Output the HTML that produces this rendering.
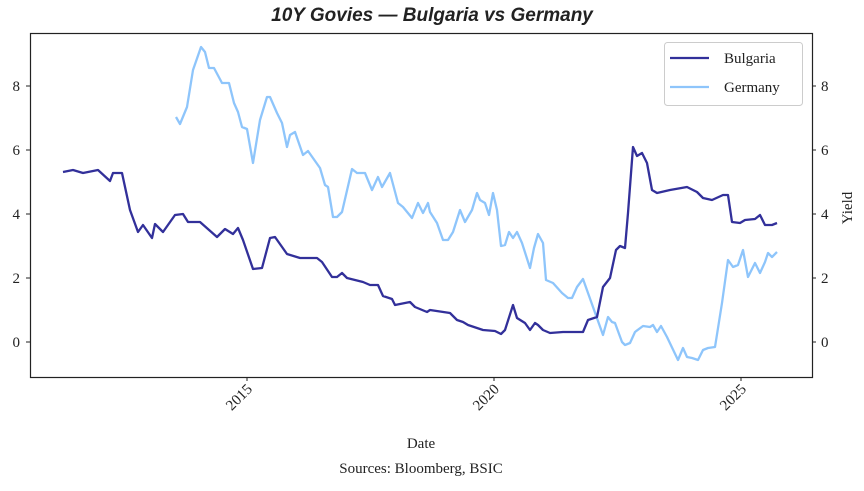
<!DOCTYPE html>
<html><head><meta charset="utf-8"><style>
body{margin:0;background:#fff;}
svg text{font-family:"Liberation Serif",serif;fill:#222;}
</style></head><body>
<svg width="864" height="486" viewBox="0 0 864 486" xmlns="http://www.w3.org/2000/svg">
<text x="432" y="21" text-anchor="middle" font-size="19" font-weight="bold" font-style="italic" style="font-family:'Liberation Sans',sans-serif">10Y Govies — Bulgaria vs Germany</text>
<rect x="30.5" y="33.5" width="782" height="344" fill="none" stroke="#222" stroke-width="1.2"/>
<g font-size="15">
<g stroke="#222" stroke-width="1">
<line x1="26" y1="342" x2="30" y2="342"/><line x1="26" y1="278" x2="30" y2="278"/><line x1="26" y1="214" x2="30" y2="214"/><line x1="26" y1="150" x2="30" y2="150"/><line x1="26" y1="86" x2="30" y2="86"/>
<line x1="812" y1="342" x2="816" y2="342"/><line x1="812" y1="278" x2="816" y2="278"/><line x1="812" y1="214" x2="816" y2="214"/><line x1="812" y1="150" x2="816" y2="150"/><line x1="812" y1="86" x2="816" y2="86"/>
<line x1="247" y1="377" x2="247" y2="381"/><line x1="494" y1="377" x2="494" y2="381"/><line x1="741" y1="377" x2="741" y2="381"/>
</g>
<text x="20" y="347" text-anchor="end">0</text><text x="20" y="283" text-anchor="end">2</text><text x="20" y="219" text-anchor="end">4</text><text x="20" y="155" text-anchor="end">6</text><text x="20" y="91" text-anchor="end">8</text>
<text x="821" y="347">0</text><text x="821" y="283">2</text><text x="821" y="219">4</text><text x="821" y="155">6</text><text x="821" y="91">8</text>
<text transform="translate(253,390) rotate(-45)" text-anchor="end">2015</text>
<text transform="translate(500,390) rotate(-45)" text-anchor="end">2020</text>
<text transform="translate(747,390) rotate(-45)" text-anchor="end">2025</text>
<text transform="translate(852,208) rotate(-90)" text-anchor="middle">Yield</text>
<text x="421" y="448" text-anchor="middle">Date</text>
<text x="421" y="473" text-anchor="middle">Sources: Bloomberg, BSIC</text>
</g>
<polyline fill="none" stroke="#8ec5fb" stroke-width="2.3" stroke-linejoin="round" points="176,117 180,124 187,107 193,70 201,47 205,52 209,68 214,68 222,83 229,83 234,103 238,112 242,127 247,129 253,163 260,120 267,97 270,97 277,113 282,123 287,147 290,135 295,132 303,155 308,151 320,168 325,185 328,187 333,217 337,217 342,212 352,169 357,173 365,173 372,190 378,177 382,187 390,173 398,203 403,207 412,218 418,203 423,213 428,203 430,212 437,223 443,240 448,240 453,232 460,210 465,222 472,210 477,193 480,200 485,203 489,215 493,193 497,210 501,246 505,245 509,232 513,238 517,232 522,243 530,268 534,248 538,234 543,243 546,280 553,283 562,293 568,298 572,298 577,287 583,279 603,335 608,317 612,322 615,323 622,342 625,345 630,343 635,332 643,326 650,327 653,325 657,332 661,326 667,337 678,360 683,348 687,357 692,358 698,360 703,350 708,348 715,347 722,303 728,260 733,267 738,265 743,250 748,277 755,263 760,273 765,262 768,253 772,257 777,252"/>
<polyline fill="none" stroke="#32309a" stroke-width="2.3" stroke-linejoin="round" points="63,172 73,170 83,173 98,170 110,181 113,173 122,173 130,210 138,232 143,225 152,238 155,224 163,232 175,215 183,214 188,222 200,222 217,237 225,229 233,234 238,228 243,240 253,269 262,268 270,238 275,237 287,254 300,258 317,258 322,262 332,277 337,277 342,273 347,278 363,282 370,285 378,285 383,296 392,299 395,305 410,302 415,307 427,312 430,310 450,313 457,320 463,322 468,325 483,330 495,331 501,334 505,330 513,305 517,318 525,323 530,330 535,323 538,325 543,330 550,333 563,332 583,332 588,320 597,317 603,287 610,278 616,250 620,246 625,248 628,213 633,147 637,156 642,153 647,163 652,190 657,193 670,190 687,187 697,192 703,198 712,200 723,195 728,195 732,222 740,223 745,220 755,219 760,215 765,225 772,225 777,223"/>
<rect x="664.5" y="42.5" width="138" height="63" rx="3" fill="#fff" fill-opacity="0.85" stroke="#ccc"/>
<line x1="670" y1="58" x2="709" y2="58" stroke="#32309a" stroke-width="2.3"/>
<line x1="670" y1="87" x2="709" y2="87" stroke="#8ec5fb" stroke-width="2.3"/>
<text x="724" y="63" font-size="15">Bulgaria</text>
<text x="724" y="92" font-size="15">Germany</text>
</svg>
</body></html>
